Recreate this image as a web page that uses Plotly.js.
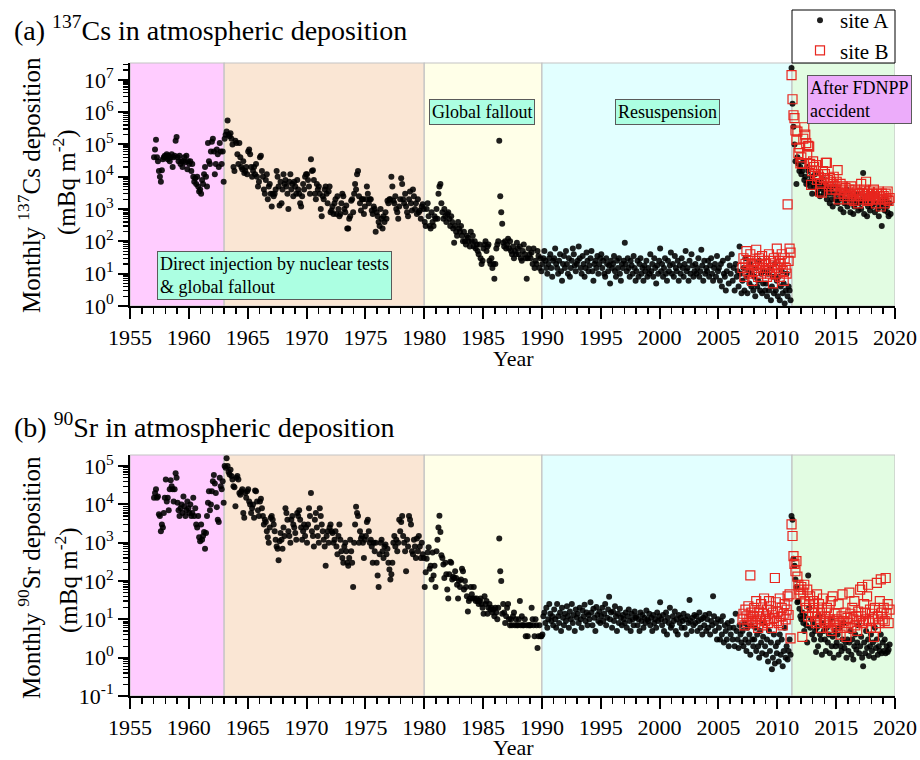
<!DOCTYPE html>
<html>
<head>
<meta charset="utf-8">
<script src="https://cdn.plot.ly/plotly-3.0.1.min.js"></script>
<style>html,body{margin:0;padding:0;background:#fff;}#chart{width:920px;height:760px;}</style>
</head>
<body>
<div id="chart"></div>
<script>
// ---------------- DATA (monthly deposition, mBq m^-2) ----------------
// 137Cs, site A, monthly from Jan 1957
const cs137_siteA_1957_1969 = [
  4e4,7e4,1.4e5,4e4,3e4,1.5e4,1e4,7e3,1.6e4,3.5e4,4e4,4.5e4,
  4e4,5e4,3.5e4,4.5e4,3e4,4e4,5e4,2e4,4e4,4.5e4,1.3e5,1.7e5,
  4e4,3e4,4.5e4,2.5e4,3e4,2e4,3e4,4e4,2.8e4,4.5e4,1.7e4,3e4,
  2.5e4,3e4,1.5e4,2.5e4,1e4,7e3,9e3,6e3,1e4,5e3,3.5e3,4e3,
  3e3,8e3,6e3,1.2e4,2e4,1e4,5e3,1.1e5,3e4,2.5e4,6e4,1.2e5,
  1.5e5,6e4,1.2e4,2.5e4,7e4,5e4,2e4,1.1e5,6e4,2.5e4,6e4,7e3,
  1.5e5,2e5,2.5e5,5.5e5,2e5,1.8e5,2.2e5,1.5e5,1e5,2e4,1.5e4,1.3e5,
  1.1e5,5e4,2.5e4,1.1e5,4e4,2e4,1.7e4,3e4,1.3e4,1.5e4,2e4,1.2e4,
  6e4,7e4,5e4,2e4,1e4,1.5e4,2e4,1.2e4,2.5e4,1e4,5e3,7e3,
  4e4,4.5e4,1.5e4,1e4,4e3,3e3,8e3,1.2e4,2e3,5e3,6e3,3e3,
  1.2e3,3e3,2.5e3,3e3,4e3,1.5e4,1e4,5e3,1.3e3,7e3,1.5e3,4e3,
  1.2e4,6e3,8e3,5e3,3e3,1e3,7e3,1.2e4,4e3,6e3,2.5e3,7e3,
  5e3,3e3,8e3,4e3,3e3,1.5e3,1.2e3,2.5e3,6e3,4e3,1e4,1.2e4
];
const cs137_siteA_1970_1989 = [
  1.2e4,8e3,5e3,3e3,3.5e4,1.5e4,1.6e4,8e3,3e3,2e3,6e3,4e3,
  5e3,3e3,1e3,600,2.5e3,2e3,4e3,5e3,3e3,1.5e3,3.5e3,5e3,
  800,900,1.2e3,700,1.5e3,2e3,700,2.5e3,1e3,600,700,1.5e3,
  3e3,2.5e3,1e3,800,1.3e3,250,250,500,600,1.8e3,2e3,800,
  3e3,6e3,4e3,1.2e4,1.5e4,2.5e3,1.5e3,900,2e3,2e3,700,1.2e3,
  2e3,5e3,3e3,1.5e3,2e3,2e3,900,700,1.2e3,1e3,200,800,
  600,400,300,1e3,500,250,600,400,800,500,1.8e3,1.5e3,
  2e3,2e3,1e4,5e3,1.8e3,1.5e3,2.5e3,1e3,800,500,1.2e3,2e3,
  9e3,6e3,2e3,1.5e3,3e3,1.2e3,800,600,2e3,3.5e3,1.5e3,900,
  4e3,2.5e3,1e3,1.5e3,700,2e3,800,900,500,1.2e3,1.4e3,1e3,
  400,300,1e3,1.5e3,600,300,250,800,400,300,600,500,
  1e3,500,3e3,5e3,6e3,1.5e3,800,500,1e3,600,400,700,
  800,500,300,600,400,250,90,300,200,150,400,250,
  200,300,150,100,200,100,80,150,130,100,70,200,
  100,150,70,100,60,80,50,40,80,30,20,25,
  60,80,100,50,70,80,25,20,30,15,20,7,
  20,60,80,100,1.3e5,2.5e3,800,350,90,70,100,60,
  80,120,60,100,50,40,70,30,50,40,90,60,
  40,70,30,25,50,80,40,30,7,30,60,40,
  30,45,20,60,15,25,20,50,35,15,30,12
];
const cs137_siteA_1990_2011Feb = [
  20,30,50,25,15,10,20,30,40,15,8,25,
  30,60,20,15,10,25,40,12,6,20,35,15,
  50,20,10,30,8,15,25,60,40,18,12,20,
  25,70,30,15,10,35,20,8,15,45,25,12,
  18,30,50,12,6,20,25,15,35,10,20,30,
  40,15,25,10,8,30,20,12,18,5,25,15,
  20,35,12,8,25,15,30,10,6,20,15,25,
  90,20,12,30,15,8,25,18,10,35,15,6,
  12,25,8,20,30,10,15,6,18,12,25,8,
  15,10,40,12,20,8,30,15,5,18,10,25,
  60,12,20,8,15,30,10,6,25,12,18,45,
  10,20,8,35,15,12,25,6,18,10,30,15,
  8,20,50,12,15,6,25,10,40,18,8,12,
  20,10,15,30,8,12,55,18,6,25,10,15,
  12,25,8,18,30,10,6,15,20,8,35,12,
  15,6,20,4,25,10,8,3,12,30,5,18,
  10,40,6,15,3,20,8,12,4,70,10,2.5,
  6,15,3,30,8,2.5,12,5,20,4,10,3,
  8,2,15,4,6,25,3,10,2.5,5,12,3,
  5,2,10,3,15,1.5,4,8,2.5,20,3,6,
  2,8,1.5,4,12,2.5,5,1.2,3,10,2,4,
  3,1.5
];
const cs137_siteA_2011Mar_2019 = [
  2.3e7,1.8e6,3.5e5,1e5,3e4,6e3,4e4,2.5e4,1.5e4,2e4,
  1.2e4,1.5e4,3e4,8e3,1e4,6e3,2e4,1.5e4,7e3,5e3,1e4,3e3,
  8e3,5e3,1.2e4,6e3,3e3,4e3,7e3,2.5e3,5e3,9e3,4e3,3e3,
  6e3,4e3,2e3,5e3,3e3,1.5e3,4e3,2e3,1.2e3,3e3,5e3,2e3,
  3e3,1.5e3,4e3,2e3,1e3,2.5e3,3e3,800,1.5e3,2e3,4e3,1.2e3,
  2e3,3e3,800,1.5e3,2.5e3,700,1.2e3,2e3,1.5e3,3e3,900,1.5e3,
  1.8e3,1e3,2e3,1.3e4,700,1.5e3,2.5e3,600,1.2e3,2e3,900,1.5e3,
  1.2e3,2e3,3e3,800,1.5e3,2.5e3,1e3,600,1.8e3,1.2e3,300,2e3,
  1.5e3,900,2e3,1.2e3,800,600,1.5e3,700
];
// 137Cs, site B, monthly from Jan 2007
const cs137_siteB_2007_2011Feb = [
  15,30,8,20,50,12,25,10,40,18,6,20,
  12,25,55,15,8,30,20,10,35,15,25,12,
  20,8,15,40,10,25,12,5,30,18,10,60,
  15,25,8,20,40,12,6,30,15,10,1.4e3,25,
  60,45
];
const cs137_siteB_2011Mar_2019 = [
  1.4e7,2.5e6,8e5,6.5e5,2.7e5,1.4e5,2.5e5,5.4e4,8e4,2.6e4,
  4e4,2.5e4,1.5e5,3.4e5,2e5,1.1e5,5e4,9e4,8.5e4,2.5e4,5.6e3,1.5e4,
  3e4,2e4,1.2e4,2.3e4,8e3,1.2e4,1e4,3.5e3,6e3,3.2e3,1.5e4,9e3,
  1.2e4,2.7e4,2.7e4,8e3,5e3,9e3,7e3,4e3,6e3,1e4,5e3,4e3,
  7e3,1.6e4,2e3,3e3,6e3,4e3,5e3,3e3,2.5e3,4.5e3,3.5e3,2e3,
  3e3,4e3,2.5e3,5e3,2e3,3e3,1.8e3,4e3,2.5e3,3.5e3,1.5e3,3e3,
  2.5e3,6e3,3e3,2e3,4e3,2.5e3,7e3,3e3,1.8e3,3.5e3,2e3,2.5e3,
  3e3,2e3,4e3,2.5e3,1.5e3,3e3,2e3,3.5e3,2.5e3,1.2e3,3e3,2e3,
  2.5e3,1.5e3,3e3,2e3,3.5e3,1.8e3,2.2e3
];
// 90Sr, site A, monthly from Jan 1957
const sr90_siteA_1957_1969 = [
  1.5e4,2e4,2.5e4,1.5e4,1.6e4,5.5e3,5e3,2e3,3e3,2.5e3,6e3,1.5e4,
  4.5e4,1.2e4,1.5e4,7e3,2.5e4,4.3e4,3e4,2.5e4,1.2e4,2.5e4,6.5e4,5e4,
  1.1e4,7e3,5e3,8e3,1e4,6e3,1.6e4,9e3,5e3,7e3,1.2e4,8e3,
  6e3,1e4,5e3,6e3,1.5e4,5e3,8e3,3e3,2.5e3,5e3,1.4e3,1.1e3,
  3e3,1.2e3,1.5e3,1.9e3,7e2,1.8e3,5e3,1.1e4,2.2e4,7e3,1e4,2.2e4,
  4e4,5.9e4,3.5e4,2e4,8.5e3,4e3,3.5e3,5e4,3e4,2.5e4,4e4,1.1e4,
  1e5,9e4,1.6e5,1e5,7e4,6e4,8e4,5.5e4,4.5e4,3e4,2.8e4,9e3,
  5e4,5.5e4,4.5e4,2e4,1.8e4,2.2e4,2.5e4,6e3,4.5e3,2e4,1.5e4,2.2e4,
  2.5e4,1.2e4,1e4,6e3,8e3,1e4,4.5e3,2.3e4,2.2e4,1.2e4,7e3,5e3,
  1.2e4,1.4e4,8e3,5e3,3e3,4e3,3.5e3,2e3,1.4e3,1e3,2.5e3,4.5e3,
  5e3,4e3,3e3,2e3,1.2e3,8e2,7e2,3.5e2,1.1e3,1.8e3,1.2e3,7e2,
  2.5e3,1.5e3,8e3,6e3,4e3,2e3,1.5e3,1e3,4e3,5e3,3e3,2.5e3,
  1.8e3,1.2e3,6e3,5e3,7e3,4e3,2.5e3,1.2e3,2e3,3e3,1.5e3,2.5e3
];
const sr90_siteA_1970_1989 = [
  1e3,3e3,8e3,5e3,2e4,2e3,1.5e3,8e2,4e3,6e3,2.5e3,1.5e3,
  1e3,8e3,5e3,3e3,2e3,1.2e3,8e2,2.5e2,1.5e3,2e3,1e3,2.5e3,
  3e3,2e3,1.8e3,1e3,1.2e3,2e3,8e2,5e2,1.5e3,3e3,1.2e3,6e2,
  4e2,3e2,8e2,1e3,6e2,3e2,2.5e2,4e2,1.2e3,6e2,3e2,7e1,
  1e3,3e3,8.7e3,6e3,5e3,1e3,2e3,1.3e3,1.5e3,1e3,4e2,1.2e3,
  1.5e3,3.5e3,4e3,2e3,1e3,1.2e3,8e2,3e2,1e3,6e2,1e3,3e2,
  1.4e2,7e1,5e2,1e3,1.2e3,6e2,4e2,8e2,9e2,5e2,7e2,3e2,
  2e2,1.1e2,1.5e2,3e2,1e3,1.5e3,8e2,1.2e3,6e2,1e3,4e3,2e3,
  3.5e3,5e3,1.5e3,1e3,6e2,1.8e2,1.2e3,8e2,5e3,4e3,3e3,6e2,
  5e2,1.2e3,8e2,4e2,1.3e3,6e2,1.5e3,8e2,4e2,1e3,5e2,4e2,
  70,1.7e2,3.8e2,5.6e2,7.6e2,2.1e2,2.5e2,1.1e2,5.6e2,1.4e2,2.5e2,70,
  6e2,1.2e3,2.5e3,5.1e3,1.9e3,4.7e2,4e2,2.7e2,1.2e2,3e2,1.5e2,60,
  35,1.5e2,3.2e2,3e2,1.1e2,1.3e2,1.2e2,1.8e2,1.2e2,80,35,1e2,
  70,1.1e2,2.1e2,1.8e2,60,1e2,70,40,16,30,35,70,
  45,35,70,35,30,35,30,25,30,35,25,20,
  14,40,25,30,14,20,25,18,20,15,18,12,
  20,15,10,20,1.3e3,1.8e2,1e2,14,25,15,8,12,
  20,25,10,7,10,7,12,15,7,10,7,7,
  10,30,7,12,7,7,10,3.6,7,3.6,7,7,
  7,20,10,7,3.6,10,7,1.8,3.6,7,3.6,3.6
];
const sr90_siteA_1990_2011Feb = [
  4,12,15,8,20,6,10,25,14,9,12,7,
  18,10,6,25,12,8,15,5,20,11,7,14,
  9,22,12,6,16,10,25,8,13,5,18,11,
  14,8,20,10,6,17,12,24,9,15,7,13,
  10,28,15,7,19,11,5,21,13,9,16,8,
  12,20,9,14,25,7,11,18,39,10,15,6,
  16,9,22,12,5,14,8,19,11,7,13,10,
  8,15,6,12,18,9,5,14,10,7,16,11,
  12,7,10,5,15,9,13,6,11,8,17,10,
  9,14,7,11,5,13,8,10,6,15,9,12,
  28,10,7,13,5,9,15,4,11,8,20,6,
  7,12,9,16,5,10,4,13,8,11,6,9,
  14,6,10,4,12,8,32,9,5,11,7,13,
  8,12,5,9,15,6,10,4,11,7,13,5,
  10,6,14,4,9,7,40,12,5,8,3,10,
  6,3,9,4,12,2.5,7,5,3,8,2,6,
  4,9,3,6,2,14,5,3,1.8,7,4,2.5,
  5,2,8,3,1.5,6,2.5,4,1.2,7,3,2,
  3,6,1.5,4,2,1,5,2.5,1.3,3.5,8,2,
  1.2,3,0.8,5,1.5,2.5,0.5,1,4,0.7,2,1.3,
  2.5,0.8,4,1.2,3,0.6,1.5,6,1,2,0.9,1.5,
  3,1.2
];
const sr90_siteA_2011Mar_2019 = [
  5e3,4e3,3.8e2,2.5e2,1.1e2,70,28,30,19,12,
  10,15,8,5,12,7,2.5,1.4e2,20,6,10,4,
  8,3,5,1.4,6,2,12,4,3,1.2,8,5,
  3,1.5,6,2.5,4,1.3,10,2,3.5,1,5,2,
  2.5,4,1.2,6,2,1.5,3,8,1.8,2.5,1,3,
  1.5,2.5,5,1.2,3,0.9,2,4,1.6,2.5,7,1.3,
  2,3.5,1,0.6,2.5,1.3,5,1.8,3,1.1,2,4,
  1.5,2.5,1,6,1.8,3,1.2,2,1.5,4,1.3,2.5,
  1.5,3,1.3,2,1.4,1.6,2.2
];
// 90Sr, site B, monthly from Jan 2007
const sr90_siteB_2007_2011Feb = [
  10,14,7,18,12,8,22,10,1.4e2,15,9,12,
  20,8,30,12,6,16,10,25,7,14,35,9,
  12,18,8,30,10,22,6,15,11,1.2e2,28,9,
  16,8,35,12,20,7,14,25,10,18,40,13,
  45,3.2
];
const sr90_siteB_2011Mar_2019 = [
  3e3,1.5e3,4.5e2,2.8e2,1.8e2,3.3e2,1.3e2,80,60,45,
  70,3.5,50,80,30,20,60,12,25,40,9,15,
  30,20,12,8,45,15,25,10,6,18,35,9,
  12,8,20,6,15,10,30,5,40,9,14,7,
  10,6,25,8,4,12,45,9,6,15,3.5,11,
  8,50,14,6,20,10,30,7,12,5,16,9,
  60,12,70,8,25,15,10,40,80,9,18,6,
  14,10,3.5,20,6,90,12,8,30,110,15,10,
  20,9,120,14,25,8,18
];

const siteAStartYear = 1957;
const siteBStartYear = 2007;

// Periods (shaded backgrounds)
const periodStart = [1955, 1963, 1980, 1990, 2011.25];
const periodEnd   = [1963, 1980, 1990, 2011.25, 2020];
const periodColor = ['rgb(255,204,255)', 'rgb(250,230,212)', 'rgb(255,255,232)', 'rgb(226,255,255)', 'rgb(226,252,226)'];

// Tick labels
const xTickYears = [1955,1960,1965,1970,1975,1980,1985,1990,1995,2000,2005,2010,2015,2020];
const csTickExp = [0,1,2,3,4,5,6,7];
const srTickExp = [-1,0,1,2,3,4,5];

// ---------------- BUILD ----------------
function monthlyX(startYear, n) {
  const out = [];
  for (let i = 0; i < n; i++) out.push(startYear + (i + 0.5) / 12);
  return out;
}
const csA = [].concat(cs137_siteA_1957_1969, cs137_siteA_1970_1989, cs137_siteA_1990_2011Feb, cs137_siteA_2011Mar_2019);
const csB = [].concat(cs137_siteB_2007_2011Feb, cs137_siteB_2011Mar_2019);
const srA = [].concat(sr90_siteA_1957_1969, sr90_siteA_1970_1989, sr90_siteA_1990_2011Feb, sr90_siteA_2011Mar_2019);
const srB = [].concat(sr90_siteB_2007_2011Feb, sr90_siteB_2011Mar_2019);

const FONT = 'Liberation Serif';
const markA = {symbol: 'circle', size: 6, color: 'rgb(0,0,0)', opacity: 0.88, line: {width: 0}};
const markB = {symbol: 'square-open', size: 9, color: 'rgb(232,38,30)', line: {width: 1.2, color: 'rgb(232,38,30)'}};

const traces = [
  {type: 'scatter', mode: 'markers', name: 'site A', x: monthlyX(siteAStartYear, csA.length), y: csA, marker: markA, xaxis: 'x', yaxis: 'y', legendrank: 1},
  {type: 'scatter', mode: 'markers', name: 'site B', x: monthlyX(siteBStartYear, csB.length), y: csB, marker: markB, xaxis: 'x', yaxis: 'y', legendrank: 2},
  {type: 'scatter', mode: 'markers', name: 'site A', x: monthlyX(siteAStartYear, srA.length), y: srA, marker: markA, xaxis: 'x2', yaxis: 'y2', showlegend: false},
  {type: 'scatter', mode: 'markers', name: 'site B', x: monthlyX(siteBStartYear, srB.length), y: srB, marker: markB, xaxis: 'x2', yaxis: 'y2', showlegend: false}
];

function minorVals(e0, e1) {
  const v = [];
  for (let e = e0; e < e1; e++) for (let k = 2; k <= 9; k++) v.push(k * Math.pow(10, e));
  return v;
}
function powText(e) { return '10<sup>' + (e < 0 ? '-' : '') + Math.abs(e) + '</sup>'; }

const W = 920, H = 760;
const xDom = [130 / W, 895 / W];
const xAxisBase = {
  range: [1955, 2020], tickmode: 'array', tickvals: xTickYears, ticktext: xTickYears.map(String),
  ticks: 'outside', ticklen: 11, tickwidth: 2, tickcolor: 'black',
  showline: true, linewidth: 2, linecolor: 'black', showgrid: false, zeroline: false,
  tickfont: {family: FONT, size: 22, color: 'black'},
  minor: {tickmode: 'linear', tick0: 1955, dtick: 1, ticks: 'outside', ticklen: 6, tickwidth: 1.5, tickcolor: 'black', showgrid: false},
  domain: xDom, fixedrange: true
};
function yAxis(exps, range, dom, anchor) {
  return {
    type: 'log', range: range, domain: dom, anchor: anchor,
    tickmode: 'array', tickvals: exps.map(e => Math.pow(10, e)), ticktext: exps.map(powText),
    ticks: 'outside', ticklen: 10, tickwidth: 2, tickcolor: 'black',
    showline: true, linewidth: 2, linecolor: 'black', showgrid: false, zeroline: false,
    tickfont: {family: FONT, size: 22, color: 'black'},
    minor: {tickmode: 'array', tickvals: minorVals(exps[0], exps[exps.length - 1] + 1), ticks: 'outside', ticklen: 5, tickwidth: 1.2, tickcolor: 'black', showgrid: false},
    fixedrange: true
  };
}

function px(x) { return x / W; }
function py(y) { return 1 - y / H; }

const shapes = [];
[['x', 'y domain'], ['x2', 'y2 domain']].forEach(function (ref) {
  for (let i = 0; i < periodStart.length; i++) {
    shapes.push({type: 'rect', xref: ref[0], yref: ref[1], x0: periodStart[i], x1: periodEnd[i], y0: 0, y1: 1,
      fillcolor: periodColor[i], line: {color: 'rgb(195,195,195)', width: 1.2}, layer: 'below'});
  }
});
// legend frame
shapes.push({type: 'rect', xref: 'paper', yref: 'paper', x0: px(792), x1: px(895), y0: py(63), y1: py(10),
  fillcolor: 'white', line: {color: 'black', width: 1}, layer: 'above'});

const aqua = 'rgb(172,255,226)';
const boxLine = 'rgb(90,90,90)';
const annotations = [
  {text: '(a) <sup>137</sup>Cs in atmospheric deposition', x: px(12), y: py(28), xanchor: 'left', yanchor: 'middle', font: {size: 28}},
  {text: '(b) <sup>90</sup>Sr in atmospheric deposition', x: px(12), y: py(425), xanchor: 'left', yanchor: 'middle', font: {size: 28}},
  {text: 'Monthly <sup>137</sup>Cs deposition', x: px(29), y: py(185), textangle: -90, xanchor: 'center', yanchor: 'middle', font: {size: 25}},
  {text: '(mBq m<sup>-2</sup>)', x: px(65), y: py(182), textangle: -90, xanchor: 'center', yanchor: 'middle', font: {size: 25}},
  {text: 'Monthly <sup>90</sup>Sr deposition', x: px(29), y: py(578), textangle: -90, xanchor: 'center', yanchor: 'middle', font: {size: 25}},
  {text: '(mBq m<sup>-2</sup>)', x: px(66), y: py(580), textangle: -90, xanchor: 'center', yanchor: 'middle', font: {size: 25}},
  {text: 'Year', x: px(513), y: py(358), xanchor: 'center', yanchor: 'middle', font: {size: 22}},
  {text: 'Year', x: px(513), y: py(747), xanchor: 'center', yanchor: 'middle', font: {size: 22}},
  {text: 'Direct injection by nuclear tests<br>& global fallout', x: px(157), y: py(251), xanchor: 'left', yanchor: 'top', align: 'left',
    bgcolor: aqua, bordercolor: boxLine, borderwidth: 1, borderpad: 2, font: {size: 18}},
  {text: 'Global fallout', x: px(482), y: py(112), xanchor: 'center', yanchor: 'middle',
    bgcolor: aqua, bordercolor: boxLine, borderwidth: 1, borderpad: 2, font: {size: 18}},
  {text: 'Resuspension', x: px(667), y: py(111.5), xanchor: 'center', yanchor: 'middle',
    bgcolor: aqua, bordercolor: boxLine, borderwidth: 1, borderpad: 2, font: {size: 18}},
  {text: 'After FDNPP<br>accident', x: px(807), y: py(75), xanchor: 'left', yanchor: 'top', align: 'left',
    bgcolor: 'rgb(236,172,250)', bordercolor: boxLine, borderwidth: 1, borderpad: 2, font: {size: 18}}
].map(function (a) { a.xref = 'paper'; a.yref = 'paper'; a.showarrow = false; a.font.family = FONT; a.font.color = 'black'; return a; });

const layout = {
  width: W, height: H, margin: {l: 0, r: 0, t: 0, b: 0},
  paper_bgcolor: 'white', plot_bgcolor: 'white',
  font: {family: FONT, size: 21, color: 'black'},
  xaxis: Object.assign({}, xAxisBase, {anchor: 'y'}),
  yaxis: yAxis(csTickExp, [0, 7.52], [py(306), py(63)], 'x'),
  xaxis2: Object.assign({}, xAxisBase, {anchor: 'y2'}),
  yaxis2: yAxis(srTickExp, [-1, 5.29], [py(696), py(455)], 'x2'),
  shapes: shapes,
  annotations: annotations,
  showlegend: true,
  legend: {x: px(800), y: py(0), xanchor: 'left', yanchor: 'top', bgcolor: 'rgba(0,0,0,0)', borderwidth: 0,
    font: {family: FONT, size: 21, color: 'black'}, tracegroupgap: 0, itemwidth: 30}
};

Plotly.newPlot('chart', traces, layout, {displayModeBar: false, staticPlot: true});
</script>
</body>
</html>
